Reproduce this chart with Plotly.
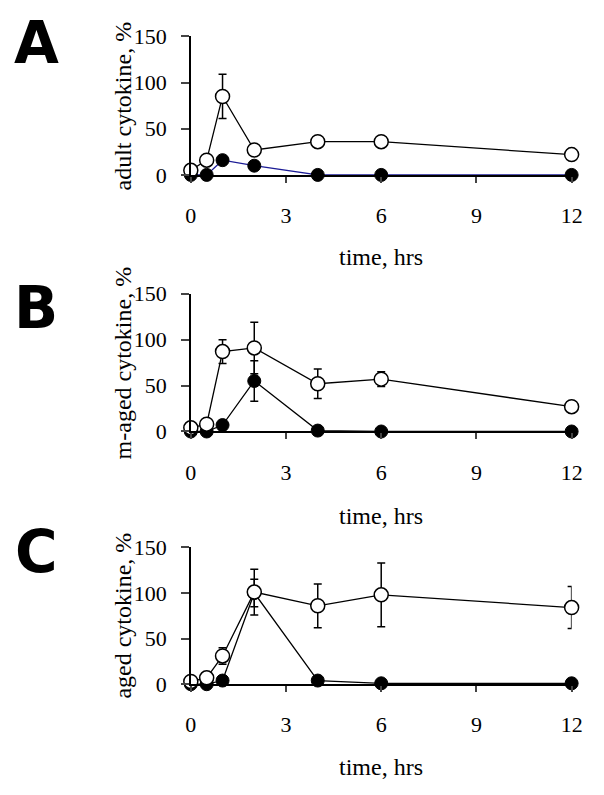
import plotly.graph_objects as go

PAGE_W, PAGE_H = 604, 795
OFF = 8  # default body margin of the html page
W, H = PAGE_W - OFF, PAGE_H - OFF


def px(x):
    return (x - OFF) / W


def py(y):
    return 1 - (y - OFF) / H


time_hrs = [0, 0.5, 1, 2, 4, 6, 12]
x_ticks = [0, 3, 6, 9, 12]
y_ticks = [0, 50, 100, 150]

a_open = [5, 16, 85, 27, 36, 36, 22]
a_open_err = [0, 0, 24, 0, 4, 0, 5]
a_filled = [0, 0, 16, 10, 0, 0, 0]
a_filled_err = [0, 0, 0, 0, 0, 0, 0]

b_open = [4, 8, 87, 91, 52, 57, 27]
b_open_err = [0, 0, 13, 28, 16, 8, 3]
b_filled = [0, 0, 7, 55, 1, 0, 0]
b_filled_err = [0, 0, 0, 22, 0, 0, 0]

c_open = [3, 7, 31, 101, 86, 98, 84]
c_open_err = [0, 0, 9, 25, 24, 35, 23]
c_filled = [0, 0, 4, 100, 4, 1, 1]
c_filled_err = [0, 0, 0, 15, 0, 0, 0]

panels = [
    ("A", "adult cytokine, %", a_open, a_open_err, a_filled, a_filled_err, "#1c1c96", (25, 168), 31.5, 253),
    ("B", "m-aged cytokine, %", b_open, b_open_err, b_filled, b_filled_err, "black", (290.7, 433), 305, 520),
    ("C", "aged cytokine, %", c_open, c_open_err, c_filled, c_filled_err, "black", (552.7, 694), 557, 779),
]

serif = "Liberation Serif"
fig = go.Figure()
xdom = [px(190), px(582)]

annotations = []
for i, (letter, ytitle, op, ope, fi, fie, fcol, (ytop, ybot), ylet, yxt) in enumerate(panels):
    n = "" if i == 0 else str(i + 1)
    xa, ya = "x" + n, "y" + n
    fig.add_trace(go.Scatter(
        x=time_hrs, y=fi, xaxis=xa, yaxis=ya, mode="lines+markers",
        line=dict(color=fcol, width=1.3),
        marker=dict(symbol="circle", size=13, color="black", line=dict(color="black", width=1)),
        error_y=dict(type="data", array=fie, visible=True, color="black", thickness=1.5, width=4),
        cliponaxis=False, showlegend=False))
    fig.add_trace(go.Scatter(
        x=time_hrs, y=op, xaxis=xa, yaxis=ya, mode="lines+markers",
        line=dict(color="black", width=1.3),
        marker=dict(symbol="circle", size=14, color="white", line=dict(color="black", width=1.5)),
        error_y=dict(type="data", array=ope, visible=True, color="black", thickness=1.5, width=4),
        cliponaxis=False, showlegend=False))
    ydom = [py(ybot), py(ytop)]
    fig.update_layout(**{
        ("xaxis" + n): dict(domain=xdom, range=[0, 12], tickvals=x_ticks, ticks="outside", ticklen=6,
                            tickwidth=1.5, showline=True, linecolor="black", linewidth=1.5,
                            showgrid=False, zeroline=False, anchor=ya, ticklabelstandoff=14,
                            tickfont=dict(family=serif, size=22, color="black")),
        ("yaxis" + n): dict(domain=ydom, range=[0, 150], tickvals=y_ticks, ticks="outside", ticklen=8,
                            tickwidth=1.5, showline=True, linecolor="black", linewidth=1.5,
                            showgrid=False, zeroline=False, anchor=xa, ticklabelstandoff=10,
                            tickfont=dict(family=serif, size=22, color="black")),
    })
    yc = (ytop + ybot) / 2
    annotations.append(dict(text=ytitle, x=px(120), y=py(yc), xref="paper", yref="paper",
                            textangle=-90, showarrow=False, xanchor="center", yanchor="middle",
                            font=dict(family=serif, size=24, color="black")))
    annotations.append(dict(text="time, hrs", x=px(386), y=py(yxt), xref="paper", yref="paper",
                            showarrow=False, xanchor="center", yanchor="middle",
                            font=dict(family=serif, size=24, color="black")))
    annotations.append(dict(text="<b>" + letter + "</b>", x=px(31), y=py(ylet), xref="paper",
                            yref="paper", showarrow=False, xanchor="center", yanchor="middle",
                            font=dict(family="DejaVu Sans", size=58, color="black")))

fig.update_layout(width=W, height=H, margin=dict(l=0, r=0, t=0, b=0),
                  paper_bgcolor="white", plot_bgcolor="white", annotations=annotations)
fig.write_html("out.html")
